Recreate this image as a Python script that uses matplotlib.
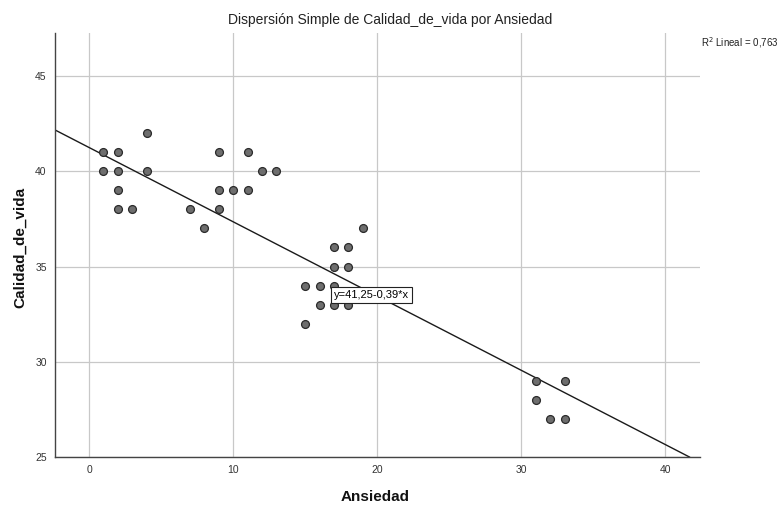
import matplotlib
matplotlib.use("Agg")
import matplotlib.pyplot as plt
import numpy as np

plt.rcParams['font.family'] = ['Liberation Sans', 'DejaVu Sans']

ansiedad = [4, 1, 2, 9, 11, 1, 2, 4, 12, 13, 2, 9, 10, 11, 2, 3, 7, 9, 8,
            19, 17, 18, 17, 18, 15, 16, 17, 16, 17, 18, 15,
            31, 33, 31, 32, 33]
calidad = [42, 41, 41, 41, 41, 40, 40, 40, 40, 40, 39, 39, 39, 39, 38, 38, 38, 38, 37,
           37, 36, 36, 35, 35, 34, 34, 34, 33, 33, 33, 32,
           29, 29, 28, 27, 27]
intercept = 41.25
slope = -0.39
r2_text = "R$^2$ Lineal = 0,763"
eq_text = "y=41,25-0,39*x"
xticks = [0, 10, 20, 30, 40]
yticks = [25, 30, 35, 40, 45]

fig = plt.figure(figsize=(7.8, 5.13), dpi=100)
ax = fig.add_axes([55/780, 1-457/513, (700-55)/780, (457-33)/513])

xmin, xmax = -2.36, 42.4
ymin, ymax = 25, 47.26
ax.set_xlim(xmin, xmax)
ax.set_ylim(ymin, ymax)

ax.set_xticks(xticks)
ax.set_yticks(yticks)
ax.grid(True, color='#c8c8c8', linewidth=0.9)
ax.set_axisbelow(True)
for s in ['top', 'right']:
    ax.spines[s].set_visible(False)
for s in ['left', 'bottom']:
    ax.spines[s].set_color('#444444')
    ax.spines[s].set_linewidth(1.0)
ax.tick_params(length=0, labelsize=7.5, colors='#333333', pad=6)

# regression line
x_end = (ymin - intercept) / slope
xl = np.array([xmin, x_end])
ax.plot(xl, intercept + slope * xl, color='#1a1a1a', linewidth=1.0, zorder=2)

ax.scatter(ansiedad, calidad, s=32, facecolor='#6e6e6e', edgecolor='#2a2a2a',
           linewidth=0.9, zorder=3)

ax.text(17.0, 33.5, eq_text, fontsize=8, va='center', ha='left', zorder=4,
        bbox=dict(boxstyle='square,pad=0.25', facecolor='white', edgecolor='#222222', linewidth=0.8))

fig.text(740/780, 1-43/513, r2_text, fontsize=7, ha='center', va='center', color='#222222')

fig.text(390/780, 1-20/513, "Dispersión Simple de Calidad_de_vida por Ansiedad",
         fontsize=10, ha='center', va='center', color='#222222')
fig.text(375/780, 1-497/513, "Ansiedad", fontsize=11, fontweight='bold',
         ha='center', va='center', color='#111111')
fig.text(20/780, 1-247/513, "Calidad_de_vida", fontsize=11, fontweight='bold',
         ha='center', va='center', rotation=90, color='#111111')

fig.savefig("out.png", dpi=100)
